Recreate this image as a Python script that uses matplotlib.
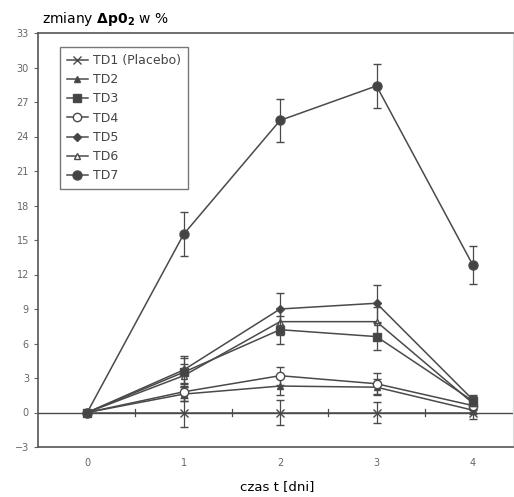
import numpy as np
import matplotlib.pyplot as plt

days = [0, 1, 2, 3, 4]
labels = ["TD1 (Placebo)", "TD2", "TD3", "TD4", "TD5", "TD6", "TD7"]

td1 = [0, 0, 0, 0, 0]
td2 = [0, 1.6, 2.3, 2.2, 0.2]
td3 = [0, 3.5, 7.2, 6.6, 1.0]
td4 = [0, 1.8, 3.2, 2.5, 0.6]
td5 = [0, 3.7, 9.0, 9.5, 1.1]
td6 = [0, 3.2, 7.9, 7.9, 0.8]
td7 = [0, 15.5, 25.4, 28.4, 12.8]

err1 = [0, 1.3, 1.1, 0.9, 0.6]
err2 = [0, 0.6, 0.8, 0.7, 0.3]
err3 = [0, 1.2, 1.2, 1.2, 0.4]
err4 = [0, 0.8, 0.8, 0.9, 0.4]
err5 = [0, 1.2, 1.4, 1.6, 0.4]
err6 = [0, 1.0, 1.2, 1.3, 0.4]
err7 = [0, 1.9, 1.85, 1.9, 1.65]

series = [td1, td2, td3, td4, td5, td6, td7]
errors = [err1, err2, err3, err4, err5, err6, err7]
markers = ["x", "^", "s", "o", "D", "^", "o"]
fills = ["#444444", "#444444", "#444444", "white", "#444444", "white", "#444444"]
msizes = [6, 5, 5.5, 6, 4, 5, 6.5]
zorders = [3, 3, 5, 3, 3, 3, 2]

col = "#4a4a4a"

fig = plt.figure(figsize=(5.14, 4.97), dpi=100)
ax = fig.add_axes([38 / 514, 1 - 447 / 497, (513 - 38) / 514, (447 - 33) / 497])

handles = []
for y, e, m, fc, ms, z, lab in zip(series, errors, markers, fills, msizes, zorders, labels):
    c = ax.errorbar(days, y, yerr=e, color=col, lw=1.1, marker=m, ms=ms,
                    mfc=fc, mec=col, mew=1.0, ecolor=col, elinewidth=0.9,
                    capsize=3, capthick=0.9, label=lab, zorder=z)
    handles.append(c[0])

# zero line with small ticks
ax.axhline(0, color=col, lw=1.0, zorder=1)
for xt in np.arange(0.5, 4.0, 1.0):
    ax.plot([xt, xt], [-0.3, 0.3], color=col, lw=0.9)

ax.set_xlim(-0.51, 4.415)
ax.set_ylim(-3, 33)
ax.set_yticks(np.arange(-3, 34, 3))
ax.set_xticks(days)
ax.tick_params(axis="x", length=0, pad=8, labelsize=7, colors="#666666")
ax.tick_params(axis="y", length=3, width=0.8, labelsize=7, colors="#666666")
for s in ["top", "bottom", "left"]:
    ax.spines[s].set_color("#555555")
    ax.spines[s].set_linewidth(1.2)
ax.spines["right"].set_color("#dddddd")

leg = ax.legend(handles, labels, loc="upper left", bbox_to_anchor=(0.046, 0.966),
                borderaxespad=0, fontsize=9, frameon=True, fancybox=False,
                edgecolor="#555555", handlelength=1.7, handletextpad=0.4,
                labelspacing=0.5, borderpad=0.55)
leg.get_frame().set_linewidth(1.0)
for t in leg.get_texts():
    t.set_color("#444444")

fig.text(42 / 514, 1 - 19 / 497, r"zmiany $\mathbf{\Delta p0_2}$ w %",
         fontsize=10, va="center", ha="left")
fig.text(277 / 514, 1 - 487 / 497, "czas t [dni]", fontsize=9.5,
         va="center", ha="center")

fig.savefig("out.png", dpi=100)
